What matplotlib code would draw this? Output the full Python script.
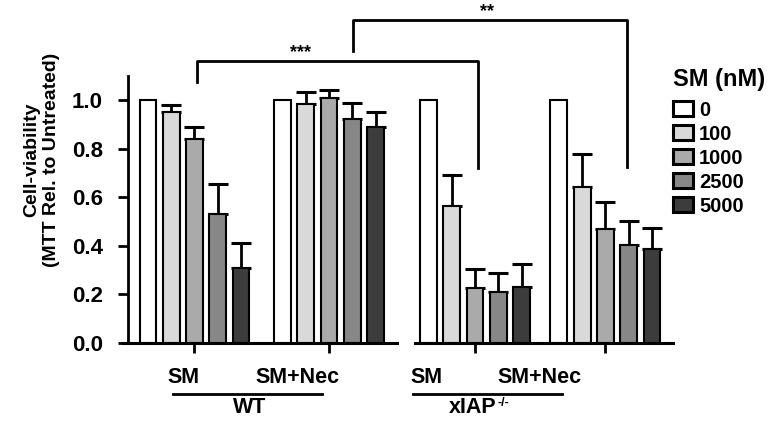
import numpy as np
import matplotlib.pyplot as plt
from matplotlib.patches import Patch

plt.rcParams['font.family'] = ['Liberation Sans', 'DejaVu Sans']
plt.rcParams['font.weight'] = 'bold'

doses = ['0', '100', '1000', '2500', '5000']
groups = ['WT SM', 'WT SM+Nec', 'xIAP SM', 'xIAP SM+Nec']

# mean viability per group, one entry per dose
means = {
    'WT SM':       [1.00, 0.95, 0.84, 0.53, 0.31],
    'WT SM+Nec':   [1.00, 0.985, 1.01, 0.92, 0.89],
    'xIAP SM':     [1.00, 0.565, 0.225, 0.21, 0.23],
    'xIAP SM+Nec': [1.00, 0.64, 0.47, 0.405, 0.385],
}
errs = {
    'WT SM':       [0.0, 0.03, 0.047, 0.123, 0.10],
    'WT SM+Nec':   [0.0, 0.047, 0.03, 0.066, 0.06],
    'xIAP SM':     [0.0, 0.126, 0.08, 0.077, 0.096],
    'xIAP SM+Nec': [0.0, 0.139, 0.111, 0.099, 0.09],
}
colors = ['white', '#d9d9d9', '#aaaaaa', '#878787', '#3c3c3c']

centers = [0.0, 5.77, 12.04, 17.64]
offsets = np.arange(-2, 3)

fig = plt.figure(figsize=(7.79, 4.30), dpi=100)
ax = fig.add_axes([128 / 779, 87 / 430, 545 / 779, 1.41 * 243 / 430])

for g, c in zip(groups, centers):
    x = c + offsets
    ax.bar(x, means[g], width=0.72, color=colors, edgecolor='black',
           linewidth=1.5, zorder=2)
    e = np.array(errs[g])
    m = e > 0
    ax.errorbar(x[m], np.array(means[g])[m], yerr=[np.zeros(m.sum()), e[m]],
                fmt='none', ecolor='black', elinewidth=2, capsize=7,
                capthick=2.2, zorder=1)

ax.set_xlim(-2.854, 20.54)
ax.set_ylim(0, 1.41)

for s in ['top', 'right', 'bottom']:
    ax.spines[s].set_visible(False)
ax.spines['left'].set_bounds(0, 1.1)
ax.spines['left'].set_linewidth(2)

ax.set_yticks([0.0, 0.2, 0.4, 0.6, 0.8, 1.0])
ax.set_yticklabels(['0.0', '0.2', '0.4', '0.6', '0.8', '1.0'])
ax.set_xticks(centers)
ax.set_xticklabels([])
ax.tick_params(axis='both', direction='out', length=7, width=2,
               labelsize=16)
ax.tick_params(axis='y', pad=11)

# broken x-axis
ax.plot([-3.07, 8.71], [0, 0], color='black', lw=2.2, clip_on=False, zorder=3)
ax.plot([9.46, 20.54], [0, 0], color='black', lw=2.2, clip_on=False, zorder=3)

# treatment labels
lab_x = [-0.49, 4.44, 9.94, 14.83]
for x, t in zip(lab_x, ['SM', 'SM+Nec', 'SM', 'SM+Nec']):
    ax.text(x, -0.144, t, ha='center', va='center', fontsize=15.5,
            fontweight='bold', clip_on=False)
ax.plot([-0.92, 5.47], [-0.21, -0.21], color='black', lw=2, clip_on=False)
ax.plot([9.38, 15.77], [-0.21, -0.21], color='black', lw=2, clip_on=False)
ax.text(2.38, -0.267, 'WT', ha='center', va='center', fontsize=15.5,
        fontweight='bold', clip_on=False)
ax.text(12.98, -0.267, 'xIAP', ha='right', va='center', fontsize=15.5,
        fontweight='bold', clip_on=False)
ax.text(13.0, -0.245, '-/-', ha='left', va='center', fontsize=9,
        fontweight='bold', clip_on=False)

# significance brackets
ax.plot([0.1, 0.1, 12.17, 12.17], [1.074, 1.16, 1.16, 0.72], color='black',
        lw=2, clip_on=False)
ax.plot([6.8, 6.8, 18.56, 18.56], [1.20, 1.33, 1.33, 0.725], color='black',
        lw=2, clip_on=False)
ax.text(4.53, 1.16, '***', ha='center', va='bottom', fontsize=13,
        fontweight='bold')
ax.text(12.55, 1.33, '**', ha='center', va='bottom', fontsize=13,
        fontweight='bold', clip_on=False)

# y label
fig.text(32 / 779, 1 - 160 / 430, 'Cell-viability', rotation=90,
         ha='center', va='center', fontsize=14, fontweight='bold')
fig.text(52 / 779, 1 - 160 / 430, '(MTT Rel. to Untreated)', rotation=90,
         ha='center', va='center', fontsize=14, fontweight='bold')

handles = [Patch(facecolor=c, edgecolor='black', linewidth=2.2) for c in colors]
leg = fig.legend(handles, doses, loc='upper left',
                 bbox_to_anchor=(673 / 779, 1 - 68 / 430), frameon=False,
                 title='SM (nM)', fontsize=14.5, title_fontsize=17,
                 handlelength=1.0, handleheight=0.75, handletextpad=0.3,
                 labelspacing=0.25, borderaxespad=0, borderpad=0)
leg.get_title().set_fontweight('bold')
leg._legend_box.align = 'left'
leg._legend_box.sep = 7

fig.savefig('out.png', dpi=100)
